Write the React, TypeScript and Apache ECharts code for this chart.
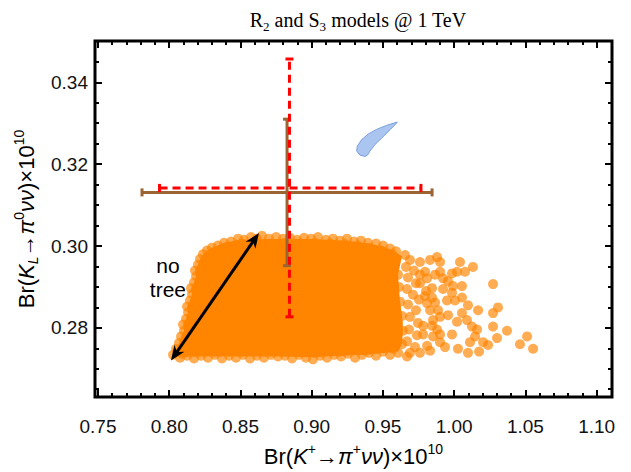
import React, { useEffect, useRef } from "react";
import * as echarts from "echarts";

// ---- axis ranges & ticks ----
const X_MIN = 0.7479;
const X_MAX = 1.1108;
const Y_MIN = 0.2631;
const Y_MAX = 0.3501;
const xMajorTicks = [0.75, 0.8, 0.85, 0.9, 0.95, 1.0, 1.05, 1.1];
const yMajorTicks = [0.28, 0.3, 0.32, 0.34];
const xMinorTicks = [
  0.76, 0.77, 0.78, 0.79, 0.81, 0.82, 0.83, 0.84, 0.86, 0.87, 0.88, 0.89,
  0.91, 0.92, 0.93, 0.94, 0.96, 0.97, 0.98, 0.99, 1.01, 1.02, 1.03, 1.04,
  1.06, 1.07, 1.08, 1.09,
];
const yMinorTicks = [
  0.265, 0.27, 0.275, 0.285, 0.29, 0.295, 0.305, 0.31, 0.315, 0.325, 0.33,
  0.335, 0.345,
];

// ---- saturated core of the R2/S3 scan (outline) ----
const coreOutline: [number, number][] = [
  [0.8027, 0.2734], [0.8048, 0.2749], [0.8069, 0.2763], [0.8083, 0.2779],
  [0.8104, 0.2793], [0.8097, 0.2808], [0.8118, 0.2822], [0.8132, 0.2838],
  [0.8125, 0.2852], [0.8146, 0.2867], [0.816, 0.2883], [0.8153, 0.2897],
  [0.8174, 0.2911], [0.8188, 0.2926], [0.8181, 0.294], [0.8202, 0.2954],
  [0.8216, 0.2968], [0.8237, 0.298], [0.8265, 0.2989], [0.83, 0.2996],
  [0.8342, 0.3001], [0.8385, 0.3008], [0.8434, 0.3011], [0.8483, 0.3015],
  [0.87, 0.3017], [0.9, 0.3017], [0.9248, 0.3013], [0.9395, 0.3006],
  [0.9501, 0.2999], [0.955, 0.2992], [0.9592, 0.2985], [0.9634, 0.2975],
  [0.9606, 0.293], [0.9613, 0.29], [0.962, 0.2864], [0.9634, 0.2829],
  [0.9641, 0.2793], [0.9634, 0.276], [0.9606, 0.2742], [0.94, 0.2735],
  [0.92, 0.2732], [0.9, 0.2728], [0.88, 0.273], [0.86, 0.273], [0.84, 0.273],
  [0.82, 0.273], [0.8076, 0.2729],
];

// ---- individual scan points (edges, fringe and tail) ----
const topEdgePoints: [number, number][] = [
  [0.8342, 0.3001], [0.8385, 0.3008], [0.8434, 0.3011], [0.8483, 0.3018],
  [0.8525, 0.3015], [0.8574, 0.3022], [0.8616, 0.3018], [0.8651, 0.3025],
  [0.87, 0.3018], [0.875, 0.3022], [0.8799, 0.3018], [0.8848, 0.302],
  [0.8897, 0.3015], [0.8946, 0.302], [0.8995, 0.3018], [0.9044, 0.3022],
  [0.9101, 0.3015], [0.915, 0.3018], [0.9199, 0.3013], [0.9248, 0.3018],
  [0.9297, 0.3011], [0.9346, 0.3013], [0.9395, 0.3008], [0.9452, 0.3006],
  [0.9501, 0.3001], [0.955, 0.2994], [0.9592, 0.2987],
  [0.8413, 0.2999], [0.8511, 0.3006], [0.8609, 0.3008], [0.8707, 0.3006],
  [0.8813, 0.3008], [0.8918, 0.3006], [0.9023, 0.3008], [0.9129, 0.3006],
  [0.9234, 0.3004], [0.9325, 0.3001], [0.9409, 0.2996], [0.9487, 0.2989],
  [0.9543, 0.298],
];
const leftEdgePoints: [number, number][] = [
  [0.8027, 0.2734], [0.8048, 0.2749], [0.8069, 0.2763], [0.8083, 0.2779],
  [0.8104, 0.2793], [0.8097, 0.2808], [0.8118, 0.2822], [0.8132, 0.2838],
  [0.8125, 0.2852], [0.8146, 0.2867], [0.816, 0.2883], [0.8153, 0.2897],
  [0.8174, 0.2911], [0.8188, 0.2926], [0.8181, 0.294], [0.8202, 0.2954],
  [0.8216, 0.2968], [0.8237, 0.298], [0.8265, 0.2989], [0.83, 0.2996],
  [0.809, 0.2737], [0.8118, 0.2758], [0.8139, 0.2777], [0.816, 0.2801],
  [0.8174, 0.2829], [0.8195, 0.2852], [0.8209, 0.2881], [0.8223, 0.2902],
  [0.8237, 0.2923], [0.8251, 0.294], [0.8272, 0.2961], [0.8307, 0.2975],
  [0.8356, 0.2987],
];
const bottomEdgePoints: [number, number][] = [
  [0.8076, 0.2727], [0.8125, 0.2732], [0.8174, 0.2725], [0.8223, 0.2732],
  [0.8272, 0.2727], [0.8321, 0.2734], [0.837, 0.2725], [0.842, 0.2732],
  [0.8469, 0.2727], [0.8518, 0.2734], [0.8567, 0.2725], [0.8616, 0.2732],
  [0.8665, 0.2727], [0.8714, 0.2734], [0.8764, 0.273], [0.8813, 0.2732],
  [0.8862, 0.2725], [0.8911, 0.2734], [0.896, 0.2727], [0.9009, 0.2723],
  [0.9058, 0.2732], [0.9108, 0.2727], [0.9157, 0.2734], [0.9206, 0.273],
  [0.9255, 0.2737], [0.9304, 0.2727], [0.9353, 0.2734], [0.9402, 0.2739],
  [0.9452, 0.2732], [0.9501, 0.2742], [0.955, 0.2734], [0.9606, 0.2739],
  [0.8181, 0.2742], [0.8321, 0.2744], [0.8497, 0.2742], [0.8672, 0.2742],
  [0.8848, 0.2742], [0.9023, 0.2739], [0.9199, 0.2742], [0.9374, 0.2744],
];
const rightFringePoints: [number, number][] = [
  [0.9564, 0.298], [0.9585, 0.2961], [0.955, 0.2947], [0.9606, 0.293],
  [0.9564, 0.2914], [0.9613, 0.29], [0.9571, 0.2881], [0.962, 0.2864],
  [0.9592, 0.2848], [0.9634, 0.2829], [0.9606, 0.2812], [0.9641, 0.2793],
  [0.9592, 0.2777], [0.9634, 0.276], [0.9571, 0.2749],
  [0.9655, 0.2978], [0.969, 0.2966], [0.9662, 0.2949], [0.9718, 0.294],
  [0.9676, 0.2923], [0.9732, 0.2909], [0.9669, 0.2895], [0.9711, 0.2881],
  [0.9753, 0.2869], [0.9676, 0.2857], [0.9732, 0.2843], [0.969, 0.2827],
  [0.9746, 0.2812], [0.9683, 0.2796], [0.9739, 0.2782], [0.9669, 0.2767],
  [0.9725, 0.2753], [0.969, 0.2739],
  [0.976, 0.293], [0.9796, 0.2937], [0.981, 0.2921], [0.976, 0.2909],
  [0.9845, 0.2897], [0.9796, 0.2878], [0.9845, 0.2874], [0.981, 0.286],
  [0.9866, 0.2862], [0.9831, 0.2843], [0.9887, 0.2843], [0.9852, 0.2819],
  [0.9901, 0.2827], [0.9782, 0.2805], [0.9845, 0.2805], [0.9852, 0.2779],
  [0.9782, 0.2784], [0.9901, 0.2765], [0.981, 0.2756], [0.9831, 0.2744],
  [0.9901, 0.2784], [0.9936, 0.2753], [0.976, 0.2961], [0.9803, 0.289],
  [0.988, 0.2796], [0.976, 0.2739], [0.9669, 0.273], [1.0027, 0.2749],
];
const tailPoints: [number, number][] = [
  [0.9831, 0.2966], [0.988, 0.2973], [0.9901, 0.2961], [1.0041, 0.2961],
  [1.0132, 0.2949], [1.002, 0.2937], [1.0076, 0.2937], [0.9901, 0.2937],
  [0.9922, 0.2921], [0.9985, 0.2933], [0.9866, 0.293], [0.9957, 0.2914],
  [0.9992, 0.2902], [1.0055, 0.2902], [0.9922, 0.2895], [1.0273, 0.2907],
  [0.9985, 0.2886], [1.0055, 0.2874], [0.995, 0.2867], [1.0006, 0.2867],
  [1.0097, 0.2855], [1.0308, 0.285], [1.0168, 0.2843], [1.0055, 0.2836],
  [1.0273, 0.2836], [0.9957, 0.2831], [1.002, 0.2815], [1.009, 0.2819],
  [1.0125, 0.2803], [1.0273, 0.2803], [1.0371, 0.2793], [1.0161, 0.2796],
  [0.9985, 0.2784], [1.0147, 0.2779], [1.0301, 0.2775], [1.0203, 0.2765],
  [1.0238, 0.2758], [1.0111, 0.2765], [1.0512, 0.2779], [1.0462, 0.276],
  [1.0554, 0.2749], [1.0097, 0.2739], [1.0175, 0.2742],
];

// ---- blue region (outline) ----
const blueOutline: [number, number][] = [
  [0.9601, 0.3303], [0.9527, 0.3295], [0.9456, 0.3285], [0.9398, 0.3274],
  [0.9351, 0.326], [0.932, 0.3244], [0.9316, 0.3232], [0.9339, 0.3222],
  [0.9374, 0.3219], [0.9391, 0.3222], [0.9409, 0.3232], [0.9445, 0.3248],
  [0.9492, 0.3264], [0.955, 0.3284], [0.9592, 0.3299],
];

// ---- error bars: [centerX, centerY, xLow, xHigh, yLow, yHigh] ----
const brownBar = [0.8827, 0.3131, 0.7809, 0.9845, 0.2952, 0.331];
const redBar = [0.8844, 0.3142, 0.7932, 0.9767, 0.2827, 0.3457];

// ---- "no tree" arrow ----
const arrowEnds: [number, number][] = [
  [0.8012, 0.272],
  [0.863, 0.3032],
];
const noTreeLabel: [number, number] = [0.7991, 0.2924];

const SANS = "Liberation Sans, Arial, Helvetica, sans-serif";
const SERIF = "Liberation Serif, Times New Roman, serif";
const ORANGE = "#ff8400";

function tickAxis(position: string, values: number[], length: number, min: number, max: number) {
  return {
    type: "value",
    position,
    min,
    max,
    axisLine: { show: false },
    splitLine: { show: false },
    axisTick: {
      show: true,
      inside: true,
      length,
      customValues: values,
      lineStyle: { color: "#000", width: 2 },
    },
    axisLabel: { show: false },
  };
}

function errorBarSeries(bar: number[], color: string, dashed: boolean) {
  return {
    type: "custom",
    coordinateSystem: "cartesian2d",
    xAxisIndex: 0,
    yAxisIndex: 0,
    silent: true,
    z: 5,
    data: [bar],
    renderItem: (params: any, api: any) => {
      const cx = api.value(0);
      const cy = api.value(1);
      const xl = api.coord([api.value(2), cy]);
      const xh = api.coord([api.value(3), cy]);
      const yl = api.coord([cx, api.value(4)]);
      const yh = api.coord([cx, api.value(5)]);
      const cap = 4;
      const lineStyle = { stroke: color, lineWidth: 3, lineDash: dashed ? [8, 5] : undefined };
      const capStyle = { stroke: color, lineWidth: 3 };
      return {
        type: "group",
        children: [
          { type: "line", shape: { x1: xl[0], y1: xl[1], x2: xh[0], y2: xh[1] }, style: lineStyle },
          { type: "line", shape: { x1: yl[0], y1: yl[1], x2: yh[0], y2: yh[1] }, style: lineStyle },
          { type: "line", shape: { x1: xl[0], y1: xl[1] - cap, x2: xl[0], y2: xl[1] + cap }, style: capStyle },
          { type: "line", shape: { x1: xh[0], y1: xh[1] - cap, x2: xh[0], y2: xh[1] + cap }, style: capStyle },
          { type: "line", shape: { x1: yl[0] - cap, y1: yl[1], x2: yl[0] + cap, y2: yl[1] }, style: capStyle },
          { type: "line", shape: { x1: yh[0] - cap, y1: yh[1], x2: yh[0] + cap, y2: yh[1] }, style: capStyle },
        ],
      };
    },
  };
}

function arrowHead(tip: number[], from: number[]) {
  const dx = tip[0] - from[0];
  const dy = tip[1] - from[1];
  const len = Math.sqrt(dx * dx + dy * dy);
  const ux = dx / len;
  const uy = dy / len;
  const nx = -uy;
  const ny = ux;
  const L = 15;
  const W = 6;
  const back = [tip[0] - ux * L, tip[1] - uy * L];
  const notch = [tip[0] - ux * L * 0.7, tip[1] - uy * L * 0.7];
  return [tip, [back[0] + nx * W, back[1] + ny * W], notch, [back[0] - nx * W, back[1] - ny * W]];
}

export default function App() {
  const ref = useRef<HTMLDivElement>(null);
  useEffect(() => {
    if (!ref.current) return;
    const chart = echarts.init(ref.current, undefined, { renderer: "svg" });
    const labelStyle = { fontFamily: SANS, fontSize: 19, color: "#111" };
    const richName = {
      i: { fontStyle: "italic", fontFamily: SANS, fontSize: 22, lineHeight: 28, color: "#000" },
      sup: { fontFamily: SANS, fontSize: 14, lineHeight: 14, verticalAlign: "top", color: "#000" },
      isub: { fontStyle: "italic", fontFamily: SANS, fontSize: 14, lineHeight: 14, verticalAlign: "bottom", color: "#000" },
      n: { fontFamily: SANS, fontSize: 22, lineHeight: 28, color: "#000" },
    };
    const scanData = [
      ...topEdgePoints,
      ...leftEdgePoints,
      ...bottomEdgePoints,
      ...rightFringePoints,
      ...tailPoints,
    ];
    const option: any = {
      animation: false,
      backgroundColor: "#fff",
      title: {
        text: "{n|R}{s|2}{n| and S}{s|3}{n| models @ 1 TeV}",
        left: 353,
        textAlign: "center",
        top: 2,
        textStyle: {
          fontFamily: SERIF,
          fontWeight: "normal",
          fontSize: 20,
          color: "#000",
          rich: {
            n: { fontFamily: SERIF, fontSize: 20, lineHeight: 26, color: "#000" },
            s: { fontFamily: SERIF, fontSize: 13, lineHeight: 14, verticalAlign: "bottom", color: "#000" },
          },
        },
      },
      grid: {
        left: 95,
        right: 19,
        top: 41,
        bottom: 62,
        show: true,
        borderColor: "#000",
        borderWidth: 3,
        backgroundColor: "transparent",
      },
      xAxis: [
        {
          type: "value",
          position: "bottom",
          min: X_MIN,
          max: X_MAX,
          axisLine: { show: false },
          splitLine: { show: false },
          axisTick: {
            show: true,
            inside: true,
            length: 7,
            customValues: xMajorTicks,
            lineStyle: { color: "#000", width: 2 },
          },
          axisLabel: {
            show: true,
            customValues: xMajorTicks,
            formatter: (v: number) => v.toFixed(2),
            margin: 20,
            ...labelStyle,
          },
          name: "{n|Br(}{i|K}{sup|+}{n|→}{i|π}{sup|+}{i|νν}{n|)×10}{sup|10}",
          nameLocation: "middle",
          nameGap: 45,
          nameTextStyle: { fontFamily: SANS, fontSize: 22, color: "#000", rich: richName },
        },
        tickAxis("bottom", xMinorTicks, 4, X_MIN, X_MAX),
        tickAxis("top", xMajorTicks, 7, X_MIN, X_MAX),
        tickAxis("top", xMinorTicks, 4, X_MIN, X_MAX),
      ],
      yAxis: [
        {
          type: "value",
          position: "left",
          min: Y_MIN,
          max: Y_MAX,
          axisLine: { show: false },
          splitLine: { show: false },
          axisTick: {
            show: true,
            inside: true,
            length: 7,
            customValues: yMajorTicks,
            lineStyle: { color: "#000", width: 2 },
          },
          axisLabel: {
            show: true,
            customValues: yMajorTicks,
            formatter: (v: number) => v.toFixed(2),
            margin: 7,
            ...labelStyle,
          },
          name: "{n|Br(}{i|K}{isub|L}{n|→}{i|π}{sup|0}{i|νν}{n|)×10}{sup|10}",
          nameLocation: "middle",
          nameRotate: 90,
          nameGap: 52,
          nameTextStyle: { fontFamily: SANS, fontSize: 22, color: "#000", rich: richName },
        },
        tickAxis("left", yMinorTicks, 4, Y_MIN, Y_MAX),
        tickAxis("right", yMajorTicks, 7, Y_MIN, Y_MAX),
        tickAxis("right", yMinorTicks, 4, Y_MIN, Y_MAX),
      ],
      series: [
        {
          type: "custom",
          coordinateSystem: "cartesian2d",
          xAxisIndex: 0,
          yAxisIndex: 0,
          silent: true,
          z: 1,
          data: [coreOutline[0]],
          renderItem: (params: any, api: any) => ({
            type: "polygon",
            shape: { points: coreOutline.map((p) => api.coord(p)) },
            style: { fill: ORANGE },
          }),
        },
        {
          type: "scatter",
          xAxisIndex: 0,
          yAxisIndex: 0,
          silent: true,
          z: 2,
          symbol: "circle",
          symbolSize: 10,
          data: scanData,
          itemStyle: { color: ORANGE, opacity: 0.68 },
        },
        {
          type: "custom",
          coordinateSystem: "cartesian2d",
          xAxisIndex: 0,
          yAxisIndex: 0,
          silent: true,
          z: 3,
          data: [blueOutline[0]],
          renderItem: (params: any, api: any) => ({
            type: "polygon",
            shape: { points: blueOutline.map((p) => api.coord(p)) },
            style: { fill: "#a9c5f0", stroke: "#7b9fdb", lineWidth: 1 },
          }),
        },
        errorBarSeries(brownBar, "#9a6533", false),
        errorBarSeries(redBar, "#ff0000", true),
        {
          type: "custom",
          coordinateSystem: "cartesian2d",
          xAxisIndex: 0,
          yAxisIndex: 0,
          silent: true,
          z: 6,
          data: [arrowEnds[0]],
          renderItem: (params: any, api: any) => {
            const a = api.coord(arrowEnds[0]);
            const b = api.coord(arrowEnds[1]);
            const t = api.coord(noTreeLabel);
            const dx = b[0] - a[0];
            const dy = b[1] - a[1];
            const len = Math.sqrt(dx * dx + dy * dy);
            const s = 10 / len;
            return {
              type: "group",
              children: [
                {
                  type: "line",
                  shape: { x1: a[0] + dx * s, y1: a[1] + dy * s, x2: b[0] - dx * s, y2: b[1] - dy * s },
                  style: { stroke: "#000", lineWidth: 3 },
                },
                { type: "polygon", shape: { points: arrowHead(b, a) }, style: { fill: "#000" } },
                { type: "polygon", shape: { points: arrowHead(a, b) }, style: { fill: "#000" } },
                {
                  type: "text",
                  x: t[0],
                  y: t[1],
                  style: {
                    text: "no\ntree",
                    fontFamily: SANS,
                    fontSize: 21,
                    lineHeight: 24,
                    fill: "#000",
                    align: "center",
                    verticalAlign: "middle",
                  },
                },
              ],
            };
          },
        },
      ],
    };
    chart.setOption(option);
    return () => chart.dispose();
  }, []);
  return (
    <div
      ref={ref}
      style={{ position: "fixed", left: 0, top: 0, width: 631, height: 472, background: "#fff" }}
    />
  );
}
